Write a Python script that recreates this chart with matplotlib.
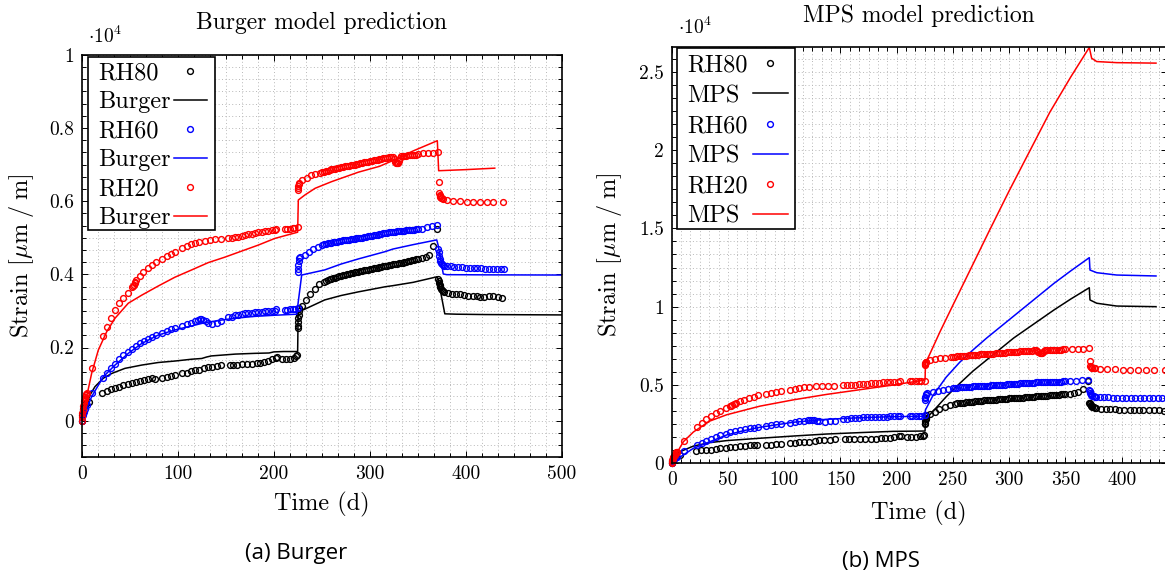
import matplotlib
matplotlib.use('Agg')
import matplotlib.pyplot as plt
from matplotlib.ticker import MultipleLocator, FuncFormatter
from matplotlib.lines import Line2D
from matplotlib.patches import Rectangle

# ---- measured creep strain (micro-strain) ----
rh80_t = [0, 0.5, 1, 1.5, 2, 3, 4, 7.6, 21.5, 26, 30.5, 34.7, 39.2, 43.3, 47.9, 52, 56.2, 60.7, 64.9, 69.3,
          73.5, 76, 83.9, 88.5, 93, 97.1, 104.8, 109.3, 113.5, 118, 122, 127.6, 131.2, 135.6, 140.5, 145,
          154.4, 158, 162, 167, 172, 177, 182, 186, 190, 194, 198, 202, 203.5, 209, 213, 217, 221, 223, 224.5,
          225, 225.2, 225.4, 225.6, 225.8, 226, 226.3, 229.5, 233.8, 238, 242.5, 247.5, 252,
          254, 256, 258, 260, 262, 264, 266, 268, 270, 272, 274, 276, 278, 280, 282, 284, 286, 288, 290,
          292, 294, 296, 298, 300, 302, 304, 306, 308, 310, 312, 314, 316, 318, 320, 322, 324, 326, 328,
          330, 332, 334, 336, 338, 340, 342, 344, 346, 348, 350,
          354, 358, 361.5, 365.4, 370, 371, 371.5, 372, 372.5, 373, 373.5, 374, 375, 376, 377,
          381.6, 386, 390, 394, 398, 402, 407, 411, 415, 419, 424, 428.5, 433, 438]
rh80_v = [0, 150, 250, 330, 380, 430, 470, 500, 770, 820, 860, 880, 930, 970, 1000, 1040, 1070, 1090, 1110, 1140,
          1160, 1140, 1180, 1200, 1230, 1250, 1290, 1310, 1360, 1380, 1390, 1430, 1460, 1480, 1500, 1520,
          1520, 1530, 1530, 1540, 1550, 1560, 1580, 1590, 1610, 1640, 1680, 1720, 1740, 1680, 1680, 1690, 1720, 1760, 1800,
          2520, 2600, 2700, 2800, 2900, 3000, 3070, 3130, 3300, 3450, 3590, 3730, 3800,
          3820, 3840, 3860, 3880, 3895, 3910, 3930, 3945, 3960, 3975, 3990, 4005, 4020, 4030, 4040, 4050, 4060, 4070, 4080,
          4090, 4105, 4115, 4130, 4140, 4150, 4160, 4170, 4180, 4190, 4200, 4215, 4225, 4240, 4250, 4260, 4270, 4280, 4290,
          4300, 4310, 4320, 4335, 4345, 4360, 4370, 4380, 4395, 4405, 4420,
          4450, 4480, 4530, 4770, 5230, 3870, 3820, 3770, 3720, 3680, 3640, 3610, 3580, 3550, 3530,
          3480, 3460, 3450, 3450, 3430, 3420, 3410, 3400, 3390, 3390, 3400, 3400, 3380, 3360]

rh60_t = [0, 1, 2, 3, 5, 11, 22.5, 26.7, 30.5, 34.7, 39.2, 43.3, 47.9, 52, 56.2, 60.7, 64.9, 69.3, 73.5, 77,
          83.9, 88.5, 93, 97.1, 104.8, 109.3, 113.5, 118, 121, 123.2, 124.5, 126.6, 129, 131.2, 136, 140.5, 145,
          152.6, 156.2, 159.6, 163, 166.6, 170, 173.4, 177, 180.4, 184, 187.4, 191, 194.3, 198, 201.2, 202.5,
          211.6, 214, 216.8, 219.5, 222, 224.8,
          225, 225.2, 225.4, 225.7, 226, 227, 232.5, 236.6, 241.1, 245.7, 249.8,
          252, 254, 256, 258, 260, 262, 264, 266, 268, 270, 272, 274, 276, 278, 280, 282, 284, 286, 288, 290,
          292, 294, 296, 298, 300, 302, 304, 306, 308, 310, 312, 314, 316, 318, 320, 322, 324, 326, 328,
          330, 332, 334, 336, 338, 340, 342, 344, 346, 348, 350,
          353.9, 359.1, 364.3, 369.6, 371, 371.5, 372, 372.5, 373, 374, 375, 376, 377,
          380.6, 384, 388, 392, 396, 400, 404, 408, 412, 416, 420, 424, 428, 432, 436, 440]
rh60_v = [0, 150, 250, 330, 420, 770, 1180, 1310, 1430, 1550, 1680, 1790, 1890, 1970, 2050, 2110, 2180, 2230, 2280, 2330,
          2400, 2450, 2500, 2520, 2590, 2630, 2680, 2730, 2760, 2780, 2790, 2750, 2720, 2680, 2640, 2680, 2720,
          2830, 2840, 2880, 2900, 2920, 2930, 2940, 2950, 2960, 2970, 2980, 2985, 2990, 3000, 3010, 3040,
          3020, 3030, 3040, 3045, 3050, 3070,
          4070, 4150, 4250, 4350, 4440, 4480, 4530, 4620, 4680, 4750, 4800,
          4815, 4830, 4845, 4855, 4865, 4875, 4885, 4895, 4905, 4915, 4925, 4935, 4940, 4950, 4960, 4965, 4975, 4980, 4985, 4995,
          5005, 5015, 5025, 5035, 5045, 5055, 5065, 5075, 5085, 5095, 5105, 5115, 5125, 5135, 5145, 5150, 5160, 5165, 5170,
          5180, 5185, 5190, 5195, 5200, 5205, 5210, 5215, 5220, 5225, 5230,
          5240, 5280, 5320, 5350, 4700, 4600, 4500, 4420, 4350, 4300, 4270, 4250, 4240,
          4230, 4220, 4210, 4200, 4190, 4180, 4175, 4170, 4165, 4160, 4155, 4150, 4145, 4140, 4140, 4140]

rh20_t = [0, 0.3, 0.6, 1, 1.5, 2, 2.5, 3, 3.5, 4, 4.5, 5, 11, 22.5, 26.7, 30.5, 34.7, 39.2, 43.3, 47.9, 52, 53, 54,
          55, 56, 57, 60.7, 64.2, 68.7, 72.9, 77, 83.9, 88.5, 93, 97.1, 104.8, 109.3, 113.5, 118, 122, 128.4,
          133.6, 138.8, 144.7, 152.6, 156, 159.6, 163, 166.6, 170, 173.4, 177, 180.4, 184, 187.4, 191, 194.3,
          198, 201.2, 202.5, 211.6, 214, 216.8, 219.5, 221.3, 224.8,
          225, 225.2, 225.4, 225.7, 226, 229.7, 234.2, 238.7, 242.9, 248, 250,
          252, 254, 256, 258, 260, 262, 264, 266, 268, 270, 272, 274, 276, 278, 280, 282, 284, 286, 288, 290,
          292, 294, 296, 298, 300, 302, 304, 306, 308, 310, 312, 314, 316, 318, 320, 322, 324,
          325, 326, 327, 328, 329, 330, 331, 332, 334, 336, 338, 340, 342, 344, 346, 348, 350,
          355.6, 360.8, 366, 371.2, 371.5, 372, 372.5, 373, 373.5, 374, 375, 376,
          380.6, 386.8, 393.8, 400.8, 407.7, 414.6, 421.6, 428.5, 438.3]
rh20_v = [0, 100, 200, 300, 400, 480, 550, 600, 650, 690, 720, 750, 1430, 2310, 2550, 2800, 3020, 3210, 3360, 3500, 3640, 3680, 3720,
          3760, 3800, 3850, 3950, 4070, 4160, 4250, 4330, 4430, 4500, 4550, 4620, 4710, 4770, 4820, 4860, 4890, 4920,
          4940, 4960, 4960, 4980, 4990, 5010, 5030, 5050, 5070, 5090, 5110, 5140, 5150, 5160, 5170, 5190,
          5200, 5210, 5230, 5230, 5240, 5250, 5255, 5260, 5280,
          6300, 6370, 6420, 6460, 6490, 6580, 6640, 6700, 6730, 6780, 6790,
          6805, 6820, 6835, 6850, 6865, 6875, 6890, 6900, 6915, 6925, 6935, 6950, 6960, 6970, 6980, 6990, 7000, 7010, 7020, 7030,
          7040, 7055, 7065, 7080, 7090, 7100, 7110, 7125, 7135, 7150, 7160, 7170, 7180, 7190, 7200, 7205, 7210,
          7150, 7080, 7040, 7030, 7050, 7100, 7180, 7220, 7230, 7235, 7240, 7250, 7255, 7260, 7265, 7270, 7280,
          7310, 7320, 7320, 7330, 6530, 6210, 6170, 6130, 6100, 6090, 6080, 6060,
          6030, 6010, 5990, 5980, 5970, 5970, 5970, 5970, 5970]

# ---- Burger model ----
burger80_t = [0, 1, 2, 3.4, 5, 8.6, 13.8, 22.5, 31.2, 45, 62.5, 79.7, 97, 114.5, 125, 130, 135, 145, 160, 180,
              195, 200, 210, 224.8, 225.3, 226, 232.5, 253, 270, 288, 316, 324, 345, 369.6, 371, 378, 390, 420, 460, 500]
burger80_v = [0, 100, 180, 290, 420, 700, 930, 1160, 1290, 1430, 1520, 1590, 1630, 1680, 1700, 1740, 1770, 1790, 1820, 1840,
              1850, 1880, 1890, 1890, 2900, 2980, 3050, 3300, 3420, 3520, 3660, 3690, 3780, 3930, 3880, 2920, 2910, 2900, 2895, 2890]
burger60_t = [0, 2, 4, 10.4, 22.5, 34.7, 48.5, 62.5, 79.7, 97, 114.5, 128.4, 145.7, 159.6, 180, 200, 223.8, 229,
              253, 270, 288, 316, 324, 345, 369.6, 371, 376.4, 380, 420, 500]
burger60_v = [0, 120, 250, 660, 1200, 1520, 1840, 2110, 2340, 2480, 2590, 2680, 2750, 2800, 2850, 2880, 2910, 3980,
              4120, 4280, 4420, 4620, 4690, 4810, 4940, 4800, 4010, 3990, 3985, 3980]
burger20_t = [0, 2, 5.2, 10.4, 17.3, 26, 34.7, 48.5, 62.5, 79.7, 97, 114.5, 131.8, 149.2, 165, 184, 201, 224.8,
              225.5, 232.5, 243, 260, 288, 310, 325, 345, 370.2, 371.6, 400, 430]
burger20_v = [0, 280, 660, 1300, 1930, 2430, 2800, 3210, 3430, 3680, 3920, 4120, 4320, 4470, 4620, 4800, 4980, 5150,
              6030, 6170, 6350, 6530, 6790, 6950, 7120, 7370, 7650, 6830, 6860, 6900]

# ---- MPS model ----
mps80_t = [0, 3, 7.4, 19.3, 34, 48.9, 78.5, 108, 137.8, 167.4, 197, 225.2, 225.5, 232, 244, 256, 268, 280, 292,
           304, 316, 328, 340, 355, 371.2, 371.8, 377.8, 395.6, 430.5]
mps80_v = [0, 450, 740, 1100, 1320, 1450, 1600, 1740, 1870, 1960, 2040, 2060, 2800, 3300, 4250, 5100, 5900, 6600, 7300,
           8000, 8600, 9200, 9800, 10500, 11210, 10430, 10220, 10040, 10000]
mps60_t = [0, 5, 10.4, 19.3, 34, 48.9, 63.7, 78.5, 108, 137.8, 167.4, 197, 225.2, 225.5, 232, 244, 256, 268, 280,
           292, 304, 316, 328, 340, 355, 371.2, 371.8, 377.8, 395.6, 430.5]
mps60_v = [0, 300, 530, 960, 1380, 1810, 2080, 2300, 2620, 2810, 2910, 2980, 3000, 3400, 4300, 5500, 6450, 7250, 8000,
           8700, 9400, 10100, 10800, 11500, 12300, 13130, 12340, 12170, 12020, 11960]
mps20_t = [0, 4.4, 10.4, 19.3, 34, 48.9, 78.5, 108, 137.8, 167.4, 197, 225.2, 225.6, 229.6, 238.5, 250, 265, 282,
           300, 318, 336, 355, 371.2, 373.3, 377.8, 395.6, 430.5]
mps20_v = [0, 640, 1380, 2000, 2700, 3100, 3650, 4050, 4400, 4700, 5000, 5320, 6400, 7000, 8400, 10100, 12300, 14800,
           17400, 19900, 22400, 24700, 26550, 25860, 25650, 25580, 25550]

plt.rcParams['font.family'] = 'cmr10'
plt.rcParams['mathtext.fontset'] = 'cm'
plt.rcParams['axes.formatter.use_mathtext'] = True

W, H = 1165, 577
fig = plt.figure(figsize=(W / 100, H / 100), dpi=100)


def fx(x):
    return x / W


def fy(y):
    return 1 - y / H


def px_axes(x0, x1, ytop, ybot):
    return fig.add_axes([fx(x0), fy(ybot), (x1 - x0) / W, (ybot - ytop) / H])


def style(ax, xmaj, ymaj):
    ax.xaxis.set_major_locator(MultipleLocator(xmaj))
    ax.xaxis.set_minor_locator(MultipleLocator(xmaj / 6))
    ax.yaxis.set_major_locator(MultipleLocator(ymaj))
    ax.yaxis.set_minor_locator(MultipleLocator(ymaj / 6))
    ax.xaxis.set_major_formatter(FuncFormatter(lambda v, p: '%g' % v))
    ax.yaxis.set_major_formatter(FuncFormatter(lambda v, p: '%g' % round(v / 1e4, 3)))
    ax.grid(which='both', color='#b8b8b8', linestyle=(0, (1, 2.5)), lw=0.7)
    ax.set_axisbelow(True)
    ax.tick_params(which='both', direction='in', top=True, right=True, labelsize=14,
                   width=0.7, color='k', pad=5.5)
    ax.tick_params(which='major', length=4)
    ax.tick_params(which='minor', length=3)
    for s in ax.spines.values():
        s.set_linewidth(1.2)


def points(ax, t, v, c):
    ax.plot(t, v, ls='none', marker='o', mfc='none', mec=c, ms=4.2, mew=1.0, clip_on=False)


def line(ax, t, v, c):
    ax.plot(t, v, color=c, lw=1.1)


def legend(labels, colors, x0, x1, y0, y1, xt, xm, xl0, xl1):
    fig.add_artist(Rectangle((fx(x0), fy(y1)), (x1 - x0) / W, (y1 - y0) / H, transform=fig.transFigure,
                             fc='white', ec='k', lw=1.2, zorder=5))
    n = len(labels)
    step = (y1 - y0) / n
    for i, (lab, c) in enumerate(zip(labels, colors)):
        yc = y0 + (i + 0.5) * step
        fig.text(fx(xt), fy(yc), lab, fontsize=17.5, ha='left', va='center_baseline', zorder=6)
        if i % 2 == 0:
            fig.add_artist(Line2D([fx(xm)], [fy(yc)], transform=fig.transFigure, ls='none', marker='o',
                                  mfc='none', mec=c, ms=4.2, mew=1.0, zorder=6))
        else:
            fig.add_artist(Line2D([fx(xl0), fx(xl1)], [fy(yc), fy(yc)], transform=fig.transFigure,
                                  color=c, lw=1.1, zorder=6))


colors = ['k', 'k', '#0000ff', '#0000ff', '#ff0000', '#ff0000']

# ---- left: Burger ----
axL = px_axes(81.7, 562, 54.7, 457.3)
style(axL, 100, 2000)
points(axL, rh80_t, rh80_v, 'k')
line(axL, burger80_t, burger80_v, 'k')
points(axL, rh60_t, rh60_v, '#0000ff')
line(axL, burger60_t, burger60_v, '#0000ff')
points(axL, rh20_t, rh20_v, '#ff0000')
line(axL, burger20_t, burger20_v, '#ff0000')
axL.set_xlim(0, 500)
axL.set_ylim(-1000, 10000)

# ---- right: MPS ----
axR = px_axes(671.7, 1166.7, 47.3, 463.3)
style(axR, 50, 5000)
points(axR, rh80_t, rh80_v, 'k')
line(axR, mps80_t, mps80_v, 'k')
points(axR, rh60_t, rh60_v, '#0000ff')
line(axR, mps60_t, mps60_v, '#0000ff')
points(axR, rh20_t, rh20_v, '#ff0000')
line(axR, mps20_t, mps20_v, '#ff0000')
axR.set_xlim(0, 440)
axR.set_ylim(0, 26560)

legend(['RH80', 'Burger', 'RH60', 'Burger', 'RH20', 'Burger'], colors,
       88, 214.5, 56.5, 230, 98.5, 190.3, 174, 207.4)
legend(['RH80', 'MPS', 'RH60', 'MPS', 'RH20', 'MPS'], colors,
       677, 795.4, 48.3, 229, 687, 770.4, 753, 788)

# titles, labels, multipliers
fig.text(fx(322), fy(23), 'Burger model prediction', fontsize=17, ha='center', va='center')
fig.text(fx(919), fy(16), 'MPS model prediction', fontsize=17, ha='center', va='center')
fig.text(fx(88), fy(36), r'$\cdot 10^4$', fontsize=14, ha='left', va='center')
fig.text(fx(678), fy(27.5), r'$\cdot 10^4$', fontsize=14, ha='left', va='center')
ylab = r'Strain [$\mu\mathrm{m}\;/\;\mathrm{m}$]'
fig.text(fx(22), fy(256), ylab, fontsize=17.5, rotation=90, ha='center', va='center')
fig.text(fx(609), fy(255), ylab, fontsize=17.5, rotation=90, ha='center', va='center')
fig.text(fx(322), fy(504), 'Time (d)', fontsize=17.5, ha='center', va='center')
fig.text(fx(919), fy(513), 'Time (d)', fontsize=17.5, ha='center', va='center')
fig.text(fx(296), fy(553), '(a) Burger', fontsize=16, family='Open Sans', ha='center', va='center')
fig.text(fx(881), fy(562), '(b) MPS', fontsize=16, family='Open Sans', ha='center', va='center')

fig.savefig('out.png', dpi=100)
